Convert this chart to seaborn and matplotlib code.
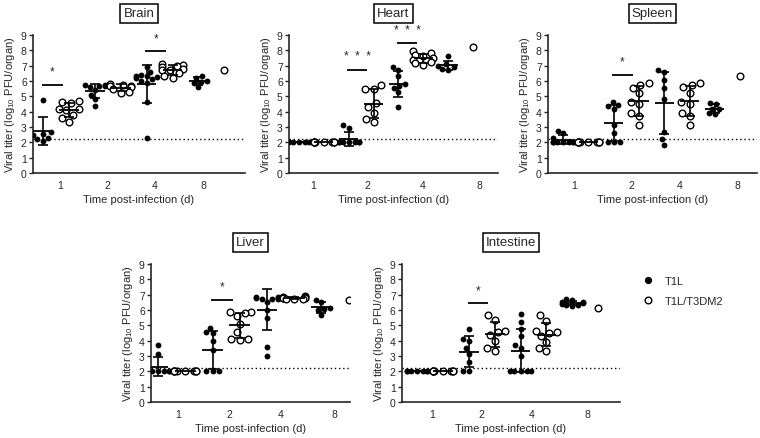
import warnings

import numpy as np
import pandas as pd
import matplotlib.pyplot as plt
from matplotlib.lines import Line2D
import seaborn as sns

# Days post-infection and virus strains
DAYS = ["1", "2", "4", "8"]
STRAINS = ["T1L", "T1L/T3DM2"]
LOD = 2.25  # limit of detection (dotted line)

# Viral titers, log10 PFU/organ, one list per day
brain_t1l = [[4.75, 2.65, 2.55, 2.45, 2.3, 2.2, 2.1],
             [5.75, 5.75, 5.7, 5.65, 5.6, 5.4, 5.1, 4.8, 4.4],
             [6.9, 6.6, 6.4, 6.35, 6.3, 6.25, 6.2, 6.1, 6.0, 5.9, 4.6, 2.3],
             [6.35, 6.2, 6.0, 5.95, 5.85, 5.6]]
brain_dm2 = [[4.7, 4.65, 4.55, 4.2, 4.15, 4.1, 3.8, 3.6, 3.35],
             [5.8, 5.75, 5.7, 5.65, 5.6, 5.5, 5.3, 5.25],
             [7.1, 7.05, 7.0, 6.9, 6.8, 6.75, 6.7, 6.5, 6.3, 6.2],
             [6.7]]

heart_t1l = [[2.0, 2.0, 2.0, 2.0, 2.0],
             [3.1, 2.95, 2.0, 2.0, 2.0, 2.0, 2.0, 2.0, 2.0],
             [6.9, 6.7, 6.3, 5.8, 5.7, 5.55, 5.3, 4.3],
             [7.6, 7.1, 7.0, 6.9, 6.8, 6.75]]
heart_dm2 = [[2.0, 2.0, 2.0, 2.0, 2.0, 2.0, 2.0, 2.0],
             [5.75, 5.5, 5.45, 4.55, 4.3, 3.9, 3.5, 3.3],
             [7.95, 7.8, 7.7, 7.6, 7.5, 7.4, 7.25, 7.15, 7.05],
             [8.25]]

spleen_t1l = [[2.75, 2.6, 2.3, 2.0, 2.0, 2.0, 2.0, 2.0, 2.0, 2.0],
              [4.65, 4.45, 4.35, 4.2, 3.1, 2.6, 2.0, 2.0, 2.0],
              [6.7, 6.6, 6.05, 5.55, 4.85, 2.65, 2.2, 1.85],
              [4.55, 4.5, 4.2, 4.15, 3.9, 3.85]]
spleen_dm2 = [[2.0, 2.0, 2.0, 2.0, 2.0, 2.0, 2.0, 2.0],
              [5.85, 5.75, 5.55, 5.2, 4.6, 4.5, 3.9, 3.7, 3.1],
              [5.85, 5.75, 5.6, 5.25, 4.6, 4.5, 3.9, 3.7, 3.1],
              [6.3]]

liver_t1l = [[3.75, 3.1, 2.1, 2.0, 2.0, 2.0, 2.0, 2.0, 2.0, 2.0],
             [4.85, 4.55, 4.5, 4.0, 3.4, 2.0, 2.0, 2.0],
             [6.85, 6.85, 6.8, 6.8, 6.75, 6.75, 6.7, 6.5, 6.0, 5.45, 3.6, 3.0],
             [6.65, 6.5, 6.15, 6.05, 6.0, 5.7]]
liver_dm2 = [[2.0, 2.0, 2.0, 2.0, 2.0, 2.0, 2.0, 2.0],
             [5.85, 5.85, 5.8, 5.6, 5.1, 4.55, 4.1, 4.1, 4.05],
             [6.9, 6.85, 6.85, 6.8, 6.8, 6.8, 6.75, 6.75, 6.7],
             [6.65]]

intestine_t1l = [[2.0, 2.0, 2.0, 2.0, 2.0, 2.0, 2.0],
                 [4.75, 4.1, 4.0, 3.5, 3.15, 2.6, 2.0, 2.0],
                 [5.75, 5.2, 4.75, 4.3, 3.7, 3.5, 3.0, 2.0, 2.0, 2.0, 2.0, 2.0],
                 [6.7, 6.65, 6.55, 6.5, 6.45, 6.4, 6.35, 6.3, 6.25]]
intestine_dm2 = [[2.0, 2.0, 2.0, 2.0, 2.0, 2.0, 2.0, 2.0],
                 [5.65, 5.35, 4.6, 4.55, 4.4, 3.95, 3.55, 3.3],
                 [5.65, 5.3, 4.6, 4.55, 4.5, 4.3, 3.9, 3.5, 3.3],
                 [6.15]]

ORGANS = ["Brain", "Heart", "Spleen", "Liver", "Intestine"]
TITERS = {
    "Brain": (brain_t1l, brain_dm2),
    "Heart": (heart_t1l, heart_dm2),
    "Spleen": (spleen_t1l, spleen_dm2),
    "Liver": (liver_t1l, liver_dm2),
    "Intestine": (intestine_t1l, intestine_dm2),
}

# significance bars: (day, height of bar, label)
SIG = {
    "Brain": [("1", 5.75, "*"), ("4", 7.95, "*")],
    "Heart": [("2", 6.75, "*  *  *"), ("4", 8.48, "*  *  *")],
    "Spleen": [("2", 6.4, "*")],
    "Liver": [("2", 6.66, "*")],
    "Intestine": [("2", 6.44, "*")],
}

# long table
rows = []
for organ in ORGANS:
    for strain, per_day in zip(STRAINS, TITERS[organ]):
        for day, vals in zip(DAYS, per_day):
            for v in vals:
                rows.append((organ, day, strain, v))
df = pd.DataFrame(rows, columns=["organ", "day", "strain", "titer"])
df["group"] = df["strain"] + " d" + df["day"]
ORDER = [f"{s} d{d}" for d in DAYS for s in STRAINS]

# axes boxes in pixels (left, top, right, bottom), x limits and day label positions
LAYOUT = {
    "Brain": ((33, 36, 245, 174), (-0.39, 7.8), [0.66, 2.47, 4.32, 6.18]),
    "Heart": ((289, 36, 498, 174), (-0.4, 8.0), [0.56, 2.77, 4.98, 7.27]),
    "Spleen": ((548, 36, 757, 174), (-0.6, 7.67), [0.43, 2.7, 4.6, 6.9]),
    "Liver": ((151, 265, 350, 403), (-0.26, 7.05), [0.73, 2.63, 4.5, 6.46]),
    "Intestine": ((402, 265, 620, 403), (-0.58, 7.84), [0.58, 2.5, 4.44, 6.6]),
}

W, H = 760, 439
sns.set_style("ticks")
plt.rcParams["font.family"] = ["Liberation Sans", "DejaVu Sans"]
plt.rcParams["mathtext.default"] = "regular"

fig = plt.figure(figsize=(W / 100, H / 100), dpi=100)

for organ in ORGANS:
    (l, t, r, b), xlim, label_pos = LAYOUT[organ]
    ax = fig.add_axes([l / W, 1 - b / H, (r - l) / W, (b - t) / H])
    sub = df[df["organ"] == organ]

    with warnings.catch_warnings():
        warnings.simplefilter("ignore")
        sns.swarmplot(data=sub[sub["strain"] == "T1L"], x="group", y="titer",
                      order=ORDER, color="black", size=4.2, linewidth=0,
                      ax=ax, zorder=3, warn_thresh=1)
        sns.swarmplot(data=sub[sub["strain"] == "T1L/T3DM2"], x="group", y="titer",
                      order=ORDER, color="white", edgecolor="black", size=4.8,
                      linewidth=1.0, ax=ax, zorder=3, warn_thresh=1)

    # mean +/- SD
    for i, g in enumerate(ORDER):
        vals = sub.loc[sub["group"] == g, "titer"].to_numpy()
        if len(vals) < 2:
            continue
        m, sd = vals.mean(), vals.std(ddof=1)
        ax.hlines(m, i - 0.38, i + 0.38, color="black", lw=1.3, zorder=4)
        if sd > 0:
            ax.errorbar(i, m, yerr=sd, color="black", lw=1.2, capsize=3.5,
                        capthick=1.2, zorder=4)

    ax.axhline(LOD, color="black", ls=(0, (1, 2)), lw=1.0, zorder=1)

    # significance
    for day, yb, lab in SIG[organ]:
        i = ORDER.index(f"T1L d{day}")
        xc = i + 0.35
        ax.hlines(yb, xc - 0.4, xc + 0.4, color="black", lw=1.3, clip_on=False)
        ax.text(xc, yb + 0.66, lab, ha="center", va="baseline", fontsize=8.5,
                clip_on=False, zorder=6)

    ax.set_xlim(*xlim)
    ax.set_ylim(0, 9)
    ax.set_yticks(range(0, 10))
    ax.set_xticks(label_pos)
    ax.set_xticklabels(DAYS)
    ax.tick_params(axis="x", length=0, labelsize=7.5, pad=5)
    ax.tick_params(axis="y", length=3, width=1, labelsize=7.5, pad=1.5)
    for sp in ["left", "bottom"]:
        ax.spines[sp].set_linewidth(1.2)
    sns.despine(ax=ax)

    ax.set_xlabel("Time post-infection (d)", fontsize=8, labelpad=3)
    ax.set_ylabel("Viral titer (log$_{10}$ PFU/organ)", fontsize=8, labelpad=3)
    title = ax.set_title(organ, fontsize=9.5, pad=13.5,
                         bbox=dict(boxstyle="square,pad=0.25", fc="white", ec="black", lw=1.1))
    title.set_zorder(2)

handles = [
    Line2D([], [], marker="o", ls="", color="black", markersize=4.2),
    Line2D([], [], marker="o", ls="", color="black", markerfacecolor="white",
           markeredgewidth=1.0, markersize=4.8),
]
fig.legend(handles, STRAINS, loc="center left", bbox_to_anchor=(631 / W, 1 - 292 / H),
           frameon=False, fontsize=8, handlelength=1.2, handletextpad=0.9,
           labelspacing=0.9)

fig.savefig("out.png", dpi=100)
